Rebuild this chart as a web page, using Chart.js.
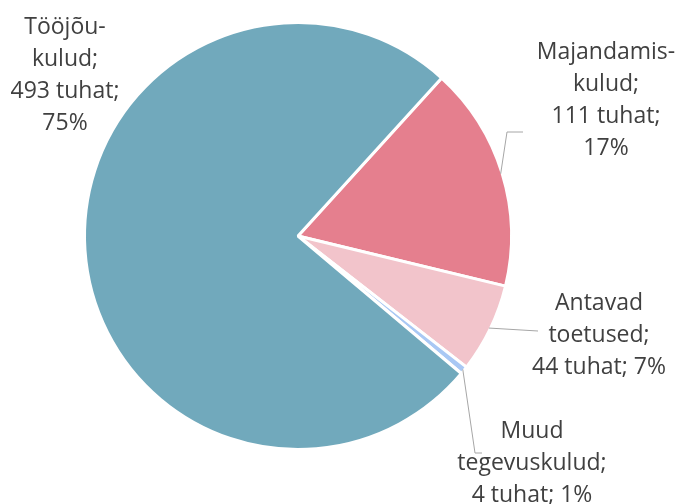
<!DOCTYPE html>
<html>
<head>
<meta charset="utf-8">
<script src="https://cdn.jsdelivr.net/npm/chart.js@4"></script>
<style>
html,body{margin:0;padding:0;background:#fff;}
#wrap{width:678px;height:504px;position:relative;}
</style>
</head>
<body>
<div id="wrap"><canvas id="c"></canvas></div>
<script>
// Data (order clockwise from the first slice)
const categories = ["Majandamis-kulud", "Antavad toetused", "Muud tegevuskulud", "Tööjõu-kulud"];
const values = [111, 44, 4, 493];          // tuhat
const percents = [17, 7, 1, 75];            // %
const labelLines = [
  ["Majandamis-", "kulud;", "111 tuhat;", "17%"],
  ["Antavad", "toetused;", "44 tuhat; 7%"],
  ["Muud", "tegevuskulud;", "4 tuhat; 1%"],
  ["Tööjõu-", "kulud;", "493 tuhat;", "75%"]
];
const colors = ["#E57F8E", "#F2C4CB", "#A9C8F4", "#71A9BC"];

// Label layout (text centre x, first line centre y, leader path points)
const labelLayout = [
  {x: 606, y: 52, leader: [[507, 132], [523, 132]]},
  {x: 599, y: 303, leader: [[538, 331]]},
  {x: 532, y: 431, leader: [[475, 453], [482, 453]]},
  {x: 65, y: 27, leader: null}
];

const labelPlugin = {
  id: 'sliceLabels',
  afterDatasetsDraw(chart) {
    const ctx = chart.ctx;
    const meta = chart.getDatasetMeta(0);
    ctx.save();
    meta.data.forEach((arc, i) => {
      const lay = labelLayout[i];
      if (lay.leader) {
        const p = arc.getProps(['x','y','startAngle','endAngle','outerRadius'], true);
        const mid = (p.startAngle + p.endAngle) / 2;
        const r = p.outerRadius - 1.5;
        ctx.beginPath();
        ctx.moveTo(p.x + Math.cos(mid) * r, p.y + Math.sin(mid) * r);
        lay.leader.forEach(pt => ctx.lineTo(pt[0], pt[1]));
        ctx.strokeStyle = '#A6A6A6';
        ctx.lineWidth = 1;
        ctx.stroke();
      }
      ctx.fillStyle = '#404040';
      ctx.font = '23px "Open Sans", sans-serif';
      ctx.textAlign = 'center';
      ctx.textBaseline = 'middle';
      labelLines[i].forEach((line, k) => {
        ctx.fillText(line, lay.x, lay.y + k * 32);
      });
    });
    ctx.restore();
  }
};

new Chart(document.getElementById('c'), {
  type: 'pie',
  data: {
    labels: categories,
    datasets: [{
      data: values,
      backgroundColor: colors,
      borderColor: '#ffffff',
      borderWidth: 3
    }]
  },
  options: {
    responsive: true,
    maintainAspectRatio: false,
    animation: false,
    rotation: 42.3,
    layout: {padding: {left: 83, right: 165, top: 21, bottom: 53}},
    plugins: {
      legend: {display: false},
      tooltip: {enabled: false}
    }
  },
  plugins: [labelPlugin]
});
</script>
</body>
</html>
